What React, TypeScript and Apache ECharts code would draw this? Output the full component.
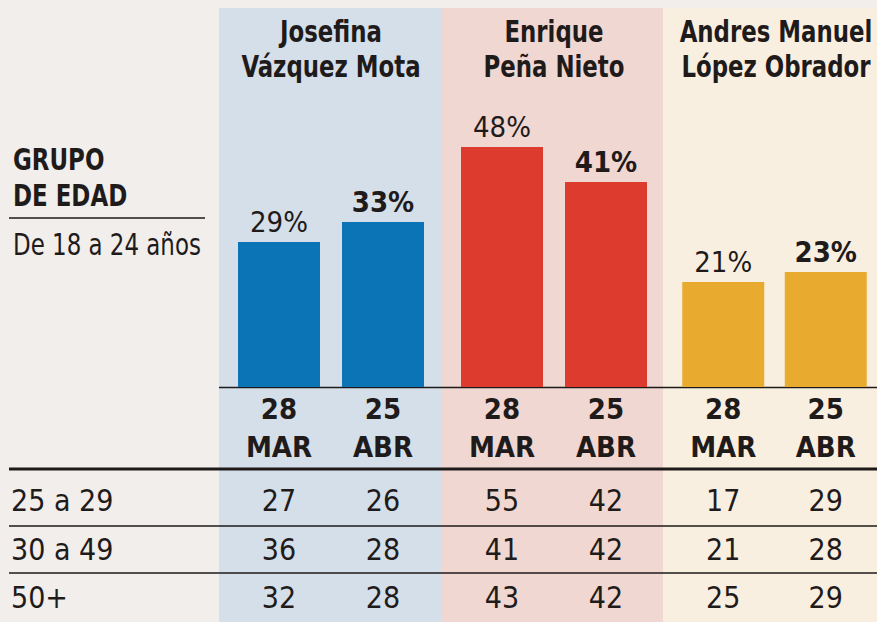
import React, { useEffect, useRef } from "react";
import * as echarts from "echarts";

const candidates = ["Josefina\nVázquez Mota", "Enrique\nPeña Nieto", "Andres Manuel\nLópez Obrador"];
const dates = ["28\nMAR", "25\nABR"];
const youthShare = [
  [29, 33],
  [48, 41],
  [21, 23],
];
const ageGroups = ["25 a 29", "30 a 49", "50+"];
const row25to29 = [27, 26, 55, 42, 17, 29];
const row30to49 = [36, 28, 41, 42, 21, 28];
const row50plus = [32, 28, 43, 42, 25, 29];
const tableRows = [row25to29, row30to49, row50plus];

const barColors = ["#0a74b7", "#dc3b2d", "#e9aa30"];
const panelColors = ["#d5dfe9", "#f1d7d1", "#f9efe1"];
const FONT = "'Noto Sans Condensed', 'DejaVu Sans Condensed', sans-serif";
const FONT_X = "'Noto Sans ExtraCondensed', 'Noto Sans Condensed', 'DejaVu Sans Condensed', sans-serif";
const TXT = "#1f1b1b";

export default function App() {
  const ref = useRef<HTMLDivElement>(null);
  useEffect(() => {
    if (!ref.current) return;
    const chart = echarts.init(ref.current, null, { renderer: "svg" });
    const gridLefts = [227, 450, 672];
    const gw = 208;
    const panelX = [219, 442, 663, 877];

    const grids: any[] = [];
    const xAxes: any[] = [];
    const yAxes: any[] = [];
    const series: any[] = [];
    candidates.forEach((_, c) => {
      grids.push({ left: gridLefts[c], top: 12, width: gw, height: 375 });
      grids.push({ left: gridLefts[c], top: 476.25, width: gw, height: 148.5 });
      const gb = c * 2;
      const gt = c * 2 + 1;
      xAxes.push({
        type: "category",
        gridIndex: gb,
        data: dates,
        axisLine: { show: false },
        axisTick: { show: false },
        axisLabel: {
          margin: 3,
          fontFamily: FONT,
          fontSize: 29,
          fontWeight: "bold",
          lineHeight: 38,
          color: TXT,
        },
      });
      yAxes.push({ type: "value", gridIndex: gb, min: 0, max: 75, show: false, splitLine: { show: false } });
      xAxes.push({ type: "category", gridIndex: gt, data: dates, show: false });
      yAxes.push({
        type: "category",
        gridIndex: gt,
        data: ageGroups,
        inverse: true,
        axisLine: { show: false },
        axisTick: { show: false },
        splitLine: { show: false },
        axisLabel: {
          show: c === 0,
          align: "left",
          margin: 216,
          fontFamily: FONT_X,
          fontSize: 30,
          color: TXT,
        },
      });
      series.push({
        type: "bar",
        xAxisIndex: gb,
        yAxisIndex: gb,
        barWidth: 82,
        data: youthShare[c].map((v, j) => ({
          value: v,
          label: { fontWeight: j === 1 ? "bold" : "normal" },
        })),
        itemStyle: { color: barColors[c] },
        label: {
          show: true,
          position: "top",
          distance: 6,
          formatter: "{c}%",
          fontFamily: FONT,
          fontSize: 29,
          color: TXT,
        },
      });
      const cells: any[] = [];
      tableRows.forEach((row, r) => {
        for (let j = 0; j < 2; j++) cells.push([j, r, row[c * 2 + j]]);
      });
      series.push({
        type: "scatter",
        xAxisIndex: gt,
        yAxisIndex: gt,
        symbolSize: 1,
        itemStyle: { color: "rgba(0,0,0,0)" },
        data: cells,
        label: {
          show: true,
          position: "inside",
          formatter: (p: any) => String(p.value[2]),
          fontFamily: FONT_X,
          fontSize: 30,
          color: TXT,
          opacity: 1,
        },
      });
    });

    const graphics: any[] = [];
    panelColors.forEach((col, i) => {
      graphics.push({
        type: "rect",
        z: -10,
        shape: { x: panelX[i], y: 8, width: panelX[i + 1] - panelX[i], height: 614 },
        style: { fill: col },
      });
    });
    const SX = 0.82;
    candidates.forEach((name, c) => {
      graphics.push({
        type: "text",
        x: gridLefts[c] + gw / 2,
        y: 14,
        scaleX: SX,
        style: {
          text: name,
          fontFamily: FONT,
          fontSize: 31,
          fontWeight: "bold",
          lineHeight: 35,
          fill: TXT,
          align: "center",
          verticalAlign: "top",
        },
      });
    });
    const line = (x1: number, x2: number, y: number, w: number) => ({
      type: "line",
      shape: { x1, y1: y, x2, y2: y },
      style: { stroke: "#1e1a1a", lineWidth: w },
    });
    graphics.push(line(219, 877, 387.5, 1.5));
    graphics.push(line(9, 877, 469, 3));
    graphics.push(line(9, 877, 526, 1.5));
    graphics.push(line(9, 877, 573, 1.5));
    graphics.push(line(9, 205, 218, 1.5));
    graphics.push({
      type: "text",
      x: 13,
      y: 142,
      scaleX: 0.85,
      style: {
        text: "GRUPO\nDE EDAD",
        fontFamily: FONT,
        fontSize: 30,
        fontWeight: "bold",
        lineHeight: 36,
        fill: TXT,
        align: "left",
        verticalAlign: "top",
      },
    });
    graphics.push({
      type: "text",
      x: 13,
      y: 245,
      scaleX: 0.85,
      style: {
        text: "De 18 a 24 años",
        fontFamily: FONT,
        fontSize: 30,
        fill: TXT,
        align: "left",
        verticalAlign: "middle",
      },
    });

    chart.setOption({
      animation: false,
      backgroundColor: "#f1eeeb",
      grid: grids,
      xAxis: xAxes,
      yAxis: yAxes,
      series,
      graphic: graphics,
    });
    return () => chart.dispose();
  }, []);
  return <div ref={ref} style={{ position: "fixed", left: 0, top: 0, width: 877, height: 622 }} />;
}
